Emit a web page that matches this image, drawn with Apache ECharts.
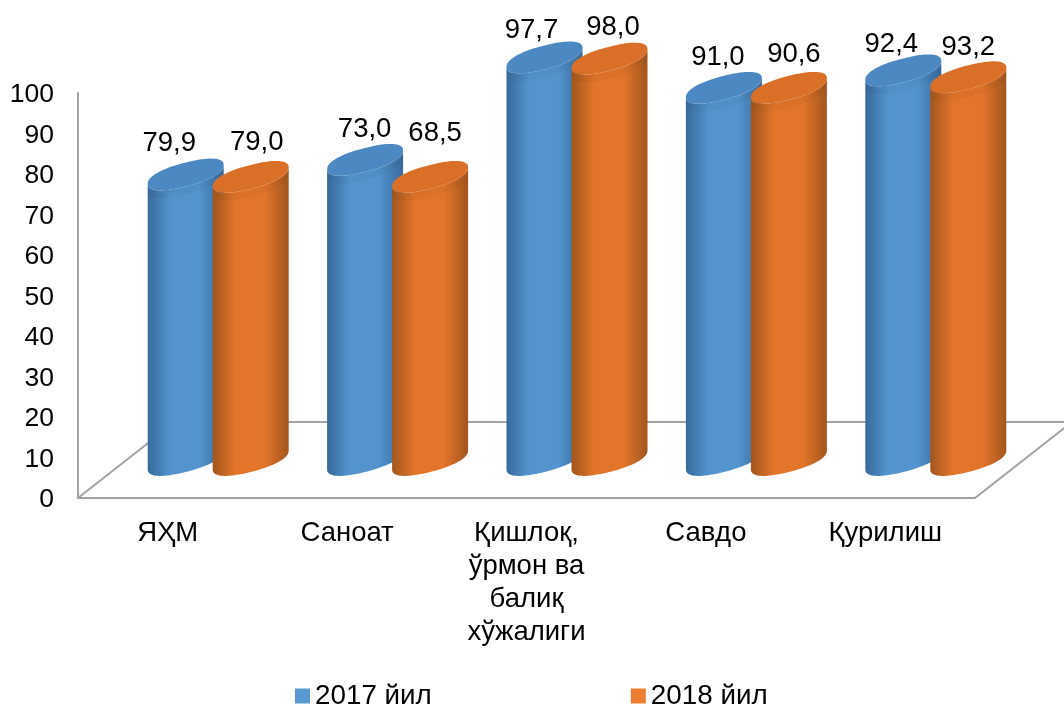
<!DOCTYPE html>
<html>
<head>
<meta charset="utf-8">
<script src="https://cdn.jsdelivr.net/npm/echarts@6/dist/echarts.min.js"></script>
<style>
html, body { margin: 0; padding: 0; background: #fff; }
#chart { width: 1064px; height: 706px; }
</style>
</head>
<body>
<div id="chart"></div>
<script>
var categories = ['ЯҲМ', 'Саноат', 'Қишлоқ,\nўрмон ва\nбалиқ\nхўжалиги', 'Савдо', 'Қурилиш'];
var seriesNames = ['2017 йил', '2018 йил'];

// printed labels do not follow the drawn heights in the original, so both are kept
var labels2017 = ['79,9', '73,0', '97,7', '91,0', '92,4'];
var labels2018 = ['79,0', '68,5', '98,0', '90,6', '93,2'];
var heights2017 = [70.5, 74.1, 99.4, 91.9, 96.2];
var heights2018 = [69.9, 69.9, 99.1, 91.9, 94.5];

// hand placed label offsets from the cylinder top
var labelShift2017 = [[-16.5, -31.5], [-0.5, -30.5], [-13, -27], [-6, -30], [-12, -26]];
var labelShift2018 = [[6, -34], [5, -43], [3.5, -31], [5, -33], [0, -30]];

var FONT = '"Liberation Sans", Arial, sans-serif';
var FONT_SIZE = 27.5;
var DEPTH_X = 97, DEPTH_Y = -76;
var RADIUS = 38, SHEAR = 9.5, THICK = 12, BLUNT = 0.88;
var GREY = '#A3A3A3';

function power(v) {
    return (v < 0 ? -1 : 1) * Math.pow(Math.abs(v), BLUNT);
}

function ellipsePoint(cx, cy, t) {
    var c = power(Math.cos(t)), s = power(Math.sin(t));
    return [cx + RADIUS * c, cy - SHEAR * c + THICK * s];
}

function cylinder(colors, shifts, texts, offset) {
    return function (params, api) {
        var i = api.value(0);
        var base = api.coord([i, 0]);
        var top = api.coord([i, api.value(1)]);
        var cx = base[0] + DEPTH_X / 2 + offset;
        var by = base[1] + DEPTH_Y / 2;
        var ty = top[1] + DEPTH_Y / 2;
        var body = [], cap = [], bevel = [], t;
        for (t = 0; t <= 40; t++) {
            body.push(ellipsePoint(cx, by, Math.PI * (1 - t / 40)));
        }
        for (t = 0; t <= 40; t++) {
            body.push(ellipsePoint(cx, ty, Math.PI * t / 40));
        }
        for (t = 0; t < 80; t++) {
            cap.push(ellipsePoint(cx, ty, Math.PI * t / 40));
        }
        for (t = 0; t <= 40; t++) {
            bevel.push(ellipsePoint(cx, ty, Math.PI * t / 40));
        }
        for (t = 40; t >= 0; t--) {
            bevel.push(ellipsePoint(cx, ty + 8, Math.PI * t / 40));
        }
        var shift = shifts[params.dataIndex];
        return {
            type: 'group',
            children: [{
                type: 'polygon',
                shape: { points: body },
                style: {
                    fill: new echarts.graphic.LinearGradient(0, 0, 1, 0, [
                        { offset: 0, color: colors.dark },
                        { offset: 0.3, color: colors.main },
                        { offset: 0.68, color: colors.main },
                        { offset: 1, color: colors.dark }
                    ])
                }
            }, {
                type: 'polygon',
                shape: { points: bevel },
                style: { fill: 'rgba(0,0,0,0.035)' }
            }, {
                type: 'polygon',
                shape: { points: cap },
                style: { fill: colors.top }
            }, {
                type: 'text',
                style: {
                    text: texts[params.dataIndex],
                    x: cx + shift[0],
                    y: ty + shift[1],
                    align: 'center',
                    verticalAlign: 'middle',
                    fill: '#000',
                    font: FONT_SIZE + 'px ' + FONT
                }
            }]
        };
    };
}

function pairs(values) {
    return values.map(function (v, i) { return [i, v]; });
}

var chart = echarts.init(document.getElementById('chart'));
chart.setOption({
    animation: false,
    backgroundColor: '#fff',
    textStyle: { fontFamily: FONT },
    grid: { left: 78, right: 89, top: 93, bottom: 208 },
    legend: {
        data: seriesNames,
        left: 290,
        top: 677,
        icon: 'rect',
        itemWidth: 15,
        itemHeight: 15,
        itemGap: 199,
        textStyle: { fontSize: 27.8, color: '#000', fontFamily: FONT }
    },
    xAxis: {
        type: 'category',
        data: categories,
        axisTick: { show: false },
        axisLine: { lineStyle: { color: GREY, width: 2 } },
        axisLabel: { color: '#000', fontSize: FONT_SIZE, lineHeight: 33, margin: 19, interval: 0, fontFamily: FONT }
    },
    yAxis: {
        type: 'value',
        min: 0,
        max: 100,
        interval: 10,
        splitLine: { show: false },
        axisTick: { show: false },
        axisLine: { show: true, lineStyle: { color: GREY, width: 2 } },
        axisLabel: { color: '#000', fontSize: 26.5, margin: 24, verticalAlign: 'top', lineHeight: 4, fontFamily: FONT }
    },
    series: [{
        // floor of the 3d box
        type: 'custom',
        silent: true,
        data: [[0, 0]],
        renderItem: function (params, api) {
            var c = params.coordSys;
            var x0 = c.x, x1 = c.x + c.width, y0 = c.y + c.height;
            return {
                type: 'polyline',
                shape: { points: [
                    [x0, y0],
                    [x0 + DEPTH_X, y0 + DEPTH_Y],
                    [x1 + DEPTH_X, y0 + DEPTH_Y],
                    [x1, y0]
                ] },
                style: { fill: null, stroke: GREY, lineWidth: 2 }
            };
        }
    }, {
        name: seriesNames[0],
        type: 'custom',
        itemStyle: { color: '#5B9BD5' },
        data: pairs(heights2017),
        renderItem: cylinder({ dark: '#386A9B', main: '#5394CE', top: '#4C89C2' }, labelShift2017, labels2017, -30.5)
    }, {
        name: seriesNames[1],
        type: 'custom',
        itemStyle: { color: '#ED7D31' },
        data: pairs(heights2018),
        renderItem: cylinder({ dark: '#A2561D', main: '#E3752B', top: '#DA7028' }, labelShift2018, labels2018, 34.5)
    }]
});
</script>
</body>
</html>
